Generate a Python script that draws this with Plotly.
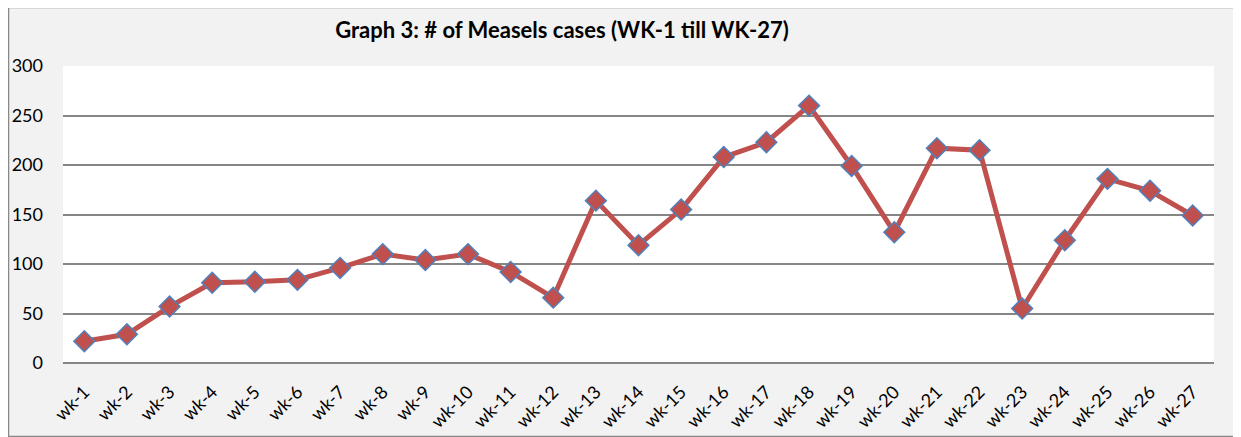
import plotly.graph_objects as go

weeks = [f"wk-{i}" for i in range(1, 28)]
cases = [22, 29, 57, 81, 82, 84, 96, 110, 104, 110, 92, 66, 164, 119, 155,
         208, 223, 260, 199, 132, 217, 215, 55, 124, 186, 174, 149]
title_text = "Graph 3: # of Measels cases (WK-1 till WK-27)"
y_ticks = [0, 50, 100, 150, 200, 250, 300]

W, H = 1233, 429
L, R, T, B = 55, 27, 58, 74
pw, ph = W - L - R, H - T - B

fig = go.Figure()
fig.add_trace(go.Scatter(
    x=weeks, y=cases, mode="lines+markers",
    line=dict(color="#C0504D", width=5),
    marker=dict(symbol="diamond", size=16, color="#C0504D",
                line=dict(color="#4F81BD", width=1.5)),
    showlegend=False, cliponaxis=False,
))

fig.add_shape(type="rect", xref="paper", yref="paper",
              x0=-(L - 0.5) / pw, x1=1 + (R - 0.5) / pw,
              y0=-(B - 0.5) / ph, y1=1 + (T + 0.5) / ph,
              line=dict(color="#888888", width=1.5), layer="above")

fig.update_layout(
    width=W, height=H,
    margin=dict(l=L, r=R, t=T, b=B),
    paper_bgcolor="#F2F2F2", plot_bgcolor="white",
    title=dict(text="<b>" + title_text + "</b>", x=554 / W, xanchor="center",
               y=1 - 22 / H, yanchor="middle",
               font=dict(family="Lato, Open Sans, sans-serif", size=22, color="black")),
    font=dict(family="Lato, Open Sans, sans-serif", color="black"),
    xaxis=dict(type="category", tickangle=-45, tickfont=dict(size=18),
               showgrid=False, showline=False, ticks="", range=[-0.5, 26.5],
               ticklabelstandoff=14, automargin=False),
    yaxis=dict(range=[0, 300], tickvals=y_ticks, tickfont=dict(size=18),
               showgrid=True, gridcolor="#868686", gridwidth=1.5,
               zeroline=True, zerolinecolor="#868686", zerolinewidth=1.5,
               showline=False, ticks="", ticklabelstandoff=19, automargin=False),
)

fig.write_html("out.html")
